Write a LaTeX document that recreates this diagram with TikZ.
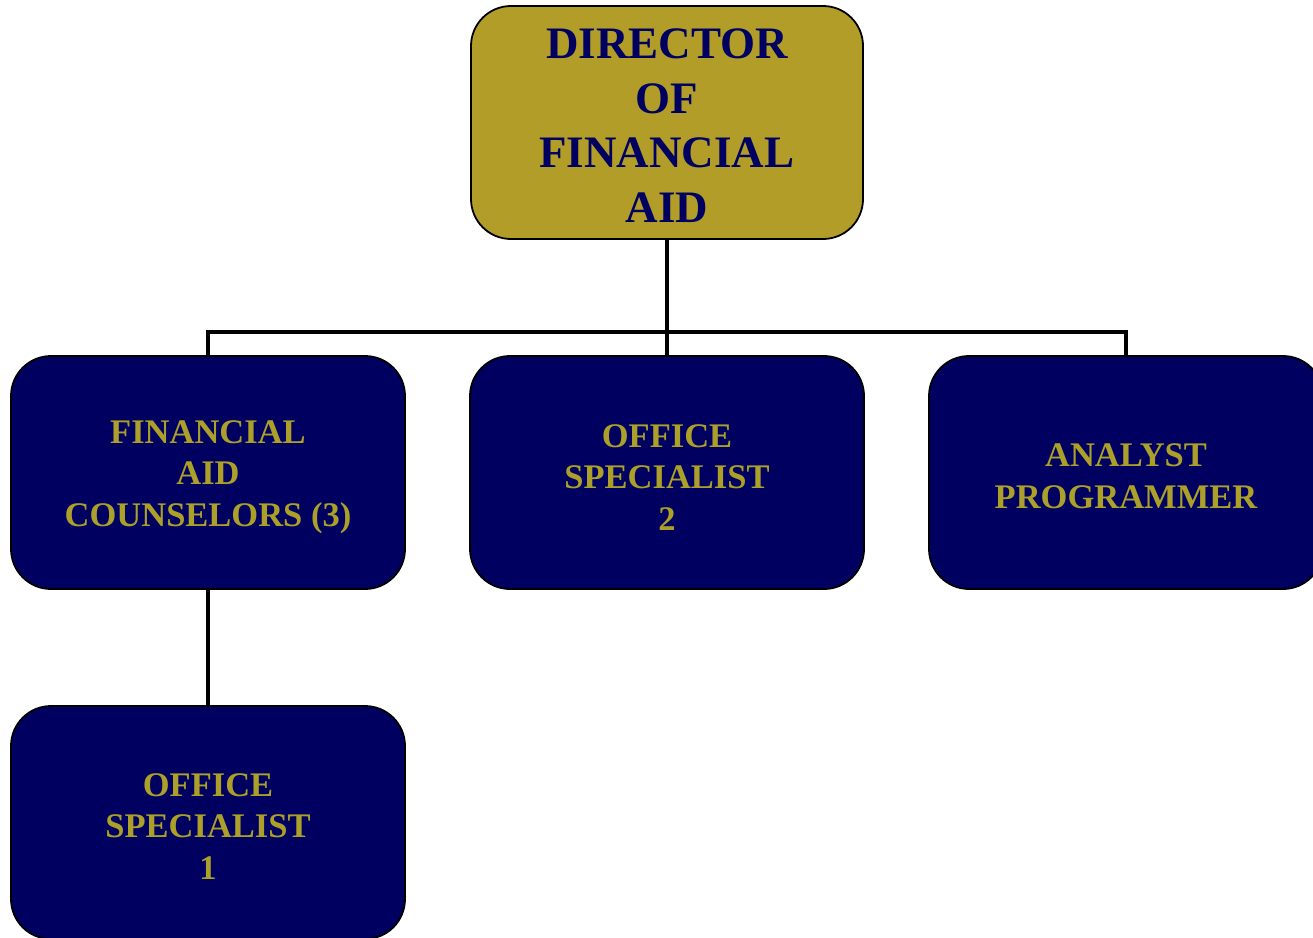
\documentclass[tikz,border=0pt]{standalone}
\usepackage{fontspec}
\setmainfont{Liberation Serif}
\definecolor{olive}{HTML}{B29D28}
\definecolor{navy}{HTML}{000060}
\definecolor{goldtxt}{HTML}{ACA02A}
\tikzset{
  box/.style={draw=black, line width=1.8pt, rounded corners=40pt, minimum width=394pt, minimum height=233pt, inner sep=0pt, align=center},
  topbox/.style={box, fill=olive, text=navy, font=\fontsize{45}{54.7}\selectfont\bfseries},
  subbox/.style={box, fill=navy, text=goldtxt, font=\fontsize{34.5}{41.5}\selectfont\bfseries},
  conn/.style={draw=black, line width=4.5pt}
}
\begin{document}
\begin{tikzpicture}[x=1pt,y=1pt]
\useasboundingbox (0,0) rectangle (1313,-937);
\node[topbox, minimum width=392pt] (dir) at (667,-122.5) {\rule{0pt}{36pt}DIRECTOR\\OF\\FINANCIAL\\AID};
\node[subbox] (fac) at (208,-472.5) {\rule{0pt}{32pt}FINANCIAL\\AID\\COUNSELORS (3)};
\node[subbox] (os2) at (667,-472.5) {\rule{0pt}{32pt}OFFICE\\SPECIALIST\\2};
\node[subbox] (ap) at (1126,-472.5) {\rule{0pt}{30pt}ANALYST\\PROGRAMMER};
\node[subbox] (os1) at (208,-822.5) {\rule{0pt}{30pt}OFFICE\\SPECIALIST\\1};
\coordinate (bus) at (667,-332);
\begin{scope}[on background layer/.try]
\end{scope}
\draw[conn] (dir.south) -- (bus);
\draw[conn] (fac.north) -- (fac.north |- bus) -- (ap.north |- bus) -- (ap.north);
\draw[conn] (bus) -- (os2.north);
\draw[conn] (fac.south) -- (os1.north);
\end{tikzpicture}
\end{document}
